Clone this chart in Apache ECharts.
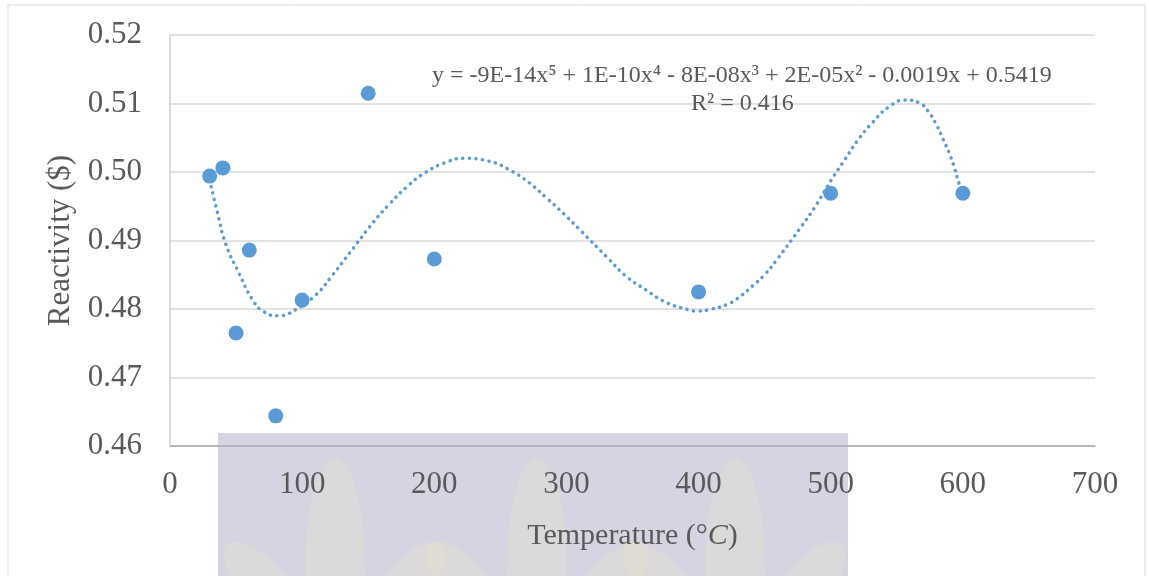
<!DOCTYPE html>
<html>
<head>
<meta charset="utf-8">
<script src="https://cdn.jsdelivr.net/npm/echarts@6/dist/echarts.min.js"></script>
<style>
  html, body { margin: 0; padding: 0; background: #fff; }
  #chart { width: 1149px; height: 576px; }
</style>
</head>
<body>
<div id="chart"></div>
<script>
// measured points
var temps = [30, 40, 50, 60, 80, 100, 150, 200, 400, 500, 600];
var reactivity = [0.4994, 0.5006, 0.4765, 0.4886, 0.4644, 0.4813, 0.5115, 0.4873, 0.4825, 0.4969, 0.4969];

// poly trend line
var trendX = [30, 36, 42, 52, 63, 71, 82, 95, 110, 122, 136, 154, 166, 179, 193, 210, 222, 241, 257, 272,
  285, 298, 311, 332, 345, 360, 375, 392, 399, 410, 422, 432, 441, 450, 460, 478, 488, 501, 511, 520,
  532, 544, 556, 567, 574, 580, 585, 590, 594, 597, 600];
var trendY = [0.4988, 0.4940, 0.4896, 0.4853, 0.4812, 0.4796, 0.4790, 0.4799, 0.4820, 0.4847, 0.4882, 0.4927,
  0.4953, 0.4978, 0.4999, 0.5015, 0.5020, 0.5016, 0.5003, 0.4984, 0.4962, 0.4939, 0.4914, 0.4873, 0.4848,
  0.4828, 0.4810, 0.4799, 0.4797, 0.4800, 0.4807, 0.4819, 0.4834, 0.4850, 0.4874, 0.4921, 0.4949, 0.4990,
  0.5019, 0.5045, 0.5073, 0.5095, 0.5105, 0.5101, 0.5088, 0.5069, 0.5048, 0.5026, 0.5004, 0.4984, 0.4974];

var yTicks = ["0.46", "0.47", "0.48", "0.49", "0.50", "0.51", "0.52"];
var eqText = "y = -9E-14x\u2075 + 1E-10x\u2074 - 8E-08x\u00b3 + 2E-05x\u00b2 - 0.0019x + 0.5419";
var r2Text = "R\u00b2 = 0.416";

var font = "'Liberation Serif', 'Times New Roman', serif";
var blue = "#5b9bd5";
var textGray = "#595959";

var chart = echarts.init(document.getElementById("chart"));

// watermark leaves (background decoration)
var leafStyle = { fill: "#e4e1cd", opacity: 0.45 };
var flames = [];
[335, 537, 735].forEach(function (cx) {
  flames.push({ type: "ellipse", z: -9, shape: { cx: cx, cy: 570, rx: 30, ry: 112 }, style: leafStyle });
  flames.push({ type: "ellipse", z: -9, shape: { cx: 0, cy: 0, rx: 24, ry: 60 },
    x: cx - 68, y: 590, rotation: 0.7, style: leafStyle });
  flames.push({ type: "ellipse", z: -9, shape: { cx: 0, cy: 0, rx: 24, ry: 60 },
    x: cx + 68, y: 590, rotation: -0.7, style: leafStyle });
});

chart.setOption({
  animation: false,
  backgroundColor: "#fff",
  grid: { left: 170, right: 54, top: 35, bottom: 130 },
  graphic: [
    { type: "rect", z: -20, shape: { x: 8, y: 5, width: 1137, height: 580 },
      style: { fill: "#fff", stroke: "#d9d9d9", lineWidth: 1 } },
    { type: "rect", z: -10, shape: { x: 218, y: 433, width: 630, height: 150 },
      style: { fill: "#d4d4e3" } }
  ].concat(flames).concat([
    { type: "text", z: 10, left: 432, top: 64,
      style: { text: eqText, font: "24px " + font, fill: textGray } },
    { type: "text", z: 10, left: 691, top: 92,
      style: { text: r2Text, font: "24px " + font, fill: textGray } }
  ]),
  xAxis: {
    type: "value",
    min: 0,
    max: 700,
    interval: 100,
    z: 3,
    name: "Temperature (\u00b0{i|C})",
    nameLocation: "middle",
    nameGap: 75,
    nameTextStyle: {
      fontFamily: font, fontSize: 30, color: textGray,
      rich: { i: { fontFamily: font, fontSize: 30, fontStyle: "italic", color: textGray } }
    },
    axisLine: { show: true, onZero: false, lineStyle: { color: "#a9a9b2", width: 1.5 } },
    axisTick: { show: false },
    splitLine: { show: false },
    axisLabel: { margin: 23, fontFamily: font, fontSize: 31, color: textGray }
  },
  yAxis: {
    type: "value",
    min: 0.46,
    max: 0.52,
    interval: 0.01,
    z: 3,
    name: "Reactivity ($)",
    nameLocation: "middle",
    nameGap: 92,
    nameTextStyle: { fontFamily: font, fontSize: 31, color: textGray },
    axisLine: { show: true, lineStyle: { color: "#d0d0d0", width: 1.5 } },
    axisTick: { show: false },
    splitLine: { show: true, lineStyle: { color: "#d9d9d9", width: 1.5 } },
    axisLabel: {
      margin: 28, fontFamily: font, fontSize: 31, color: textGray,
      formatter: function (v) {
        var i = Math.round((v - 0.46) * 100);
        return yTicks[i];
      }
    }
  },
  series: [
    {
      name: "Poly. trend",
      type: "line",
      z: 4,
      smooth: true,
      showSymbol: false,
      data: trendX.map(function (x, i) { return [x, trendY[i]]; }),
      lineStyle: { color: blue, width: 3.5, type: [0.1, 6.5], cap: "round" }
    },
    {
      name: "Reactivity",
      type: "scatter",
      z: 5,
      symbolSize: 15,
      data: temps.map(function (t, i) { return [t, reactivity[i]]; }),
      itemStyle: { color: blue, opacity: 1 }
    }
  ]
});
</script>
</body>
</html>
